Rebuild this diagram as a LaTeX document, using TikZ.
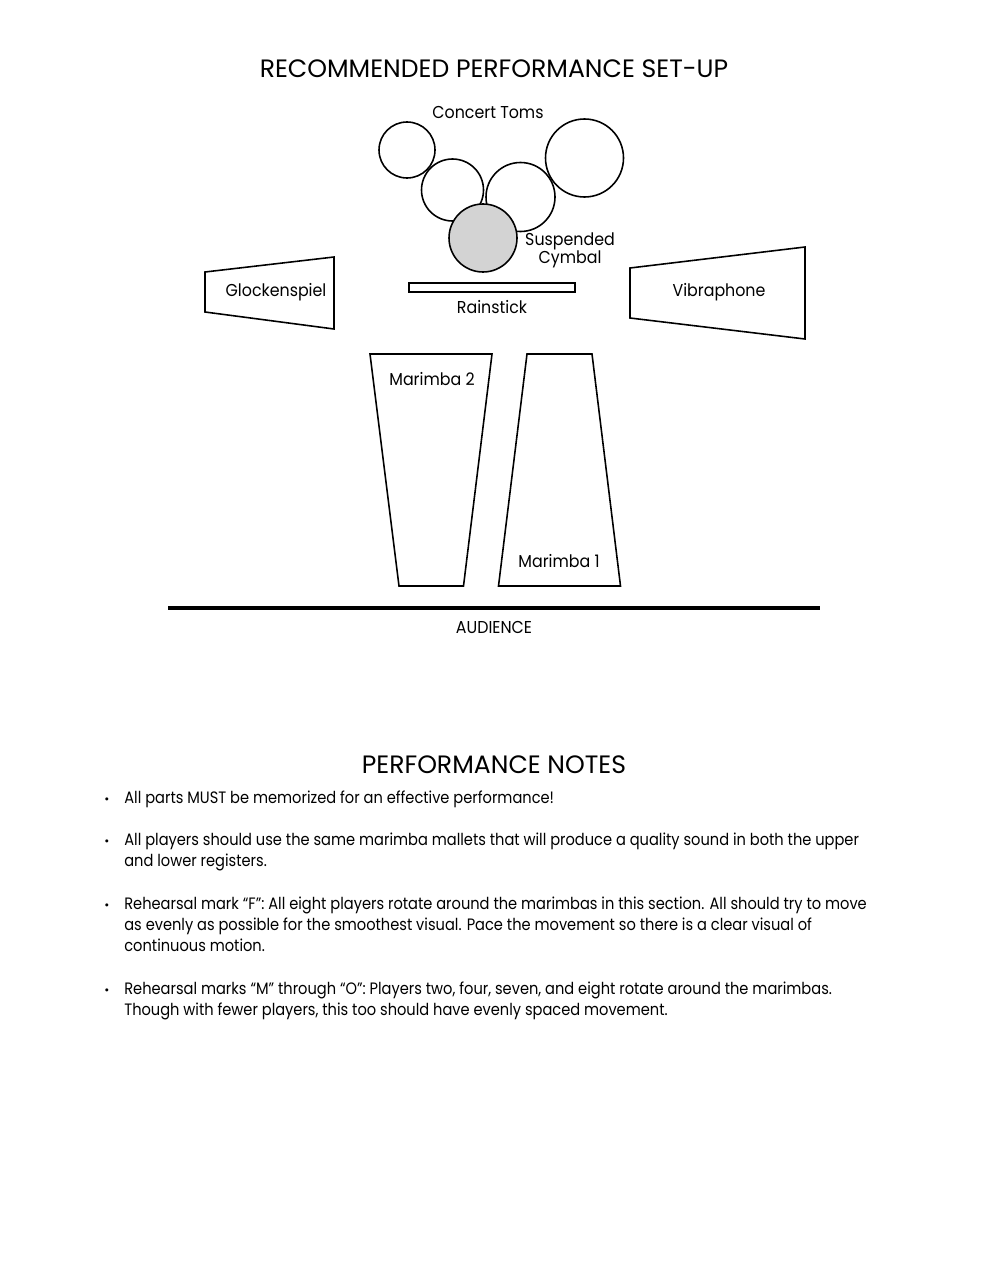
\documentclass[tikz,border=0pt]{standalone}
\usepackage{fontspec}
\setmainfont{Poppins}
\newfontfamily\labelfont[FakeStretch=0.92]{Poppins}
\newfontfamily\bodyfont[FakeStretch=0.885]{Poppins}
\usepackage{xcolor}
\usetikzlibrary{positioning}
\definecolor{cymgray}{HTML}{D3D3D3}
\tikzset{
  outline/.style ={draw=black, line width=0.9pt, fill=white},
  tom/.style     ={outline},
  cymbal/.style  ={outline, fill=cymgray},
  lbl/.style     ={inner sep=0pt, font=\labelfont\fontsize{9.8}{10.4}\selectfont, align=center},
  heading/.style ={inner sep=0pt, font=\fontsize{14.3}{16}\selectfont},
  para/.style    ={inner sep=0pt, anchor=base west, align=left,
                   font=\bodyfont\fontsize{9.4}{11.9}\selectfont},
  dot/.style     ={inner sep=0pt, anchor=base, font=\fontsize{7}{8}\selectfont},
}

\begin{document}
\begin{tikzpicture}[x=0.02cm, y=-0.02cm]
  \useasboundingbox (0,0) rectangle (989,1280);

  % set-up plan
  \node[heading] (title) at (494,69) {RECOMMENDED PERFORMANCE SET-UP};

  % toms and cymbal
  \draw[tom] (407,150) circle (28);
  \draw[tom] (452.5,190) circle (31);
  \draw[tom] (520.5,197) circle (34.5);
  \draw[tom] (584.5,158) circle (39);
  \draw[cymbal] (483,238) circle (34);
  \node[lbl] (toms) at (488,113) {Concert Toms};
  \node[lbl] (cymlbl) at (570,250) {Suspended\\Cymbal};

  % rainstick
  \draw[outline] (409,283) rectangle (575,292);
  \node[lbl] (rain) at (492,307) {Rainstick};

  % glockenspiel and vibraphone
  \draw[outline] (205,272) -- (334,257) -- (334,329) -- (205,312) -- cycle;
  \node[lbl] (glock) at (276,292) {Glockenspiel};
  \draw[outline] (630,268) -- (805,247) -- (805,339) -- (630,318) -- cycle;
  \node[lbl] (vib) at (719,292) {Vibraphone};

  % marimbas
  \draw[outline] (370,354) -- (492,354) -- (463.5,586) -- (399,586) -- cycle;
  \node[lbl] (mar2) at (432,379) {Marimba 2};
  \draw[outline] (527,354) -- (592,354) -- (620.5,586) -- (498.5,586) -- cycle;
  \node[lbl] (mar1) at (559,561) {Marimba 1};

  % audience
  \draw[line width=1.8pt] (168,608) -- (820,608);
  \node[lbl] (aud) at (494,627) {AUDIENCE};

  % notes (anchored at the baseline of each last line)
  \node[heading] (notes) at (494,765) {PERFORMANCE NOTES};
  \foreach \y in {803,845,909,994}
    \node[dot] at (107,\y) {\textbullet};
  \node[para] (n1) at (124,803) {All parts MUST be memorized for an effective performance!};
  \node[para] (n2) at (124,866) {All players should use the same marimba mallets that will produce a quality sound in both the upper\\and lower registers.};
  \node[para] (n3) at (124,951) {Rehearsal mark “F”: All eight players rotate around the marimbas in this section. All should try to move\\as evenly as possible for the smoothest visual. Pace the movement so there is a clear visual of\\continuous motion.};
  \node[para] (n4) at (124,1015) {Rehearsal marks “M” through “O”: Players two, four, seven, and eight rotate around the marimbas.\\Though with fewer players, this too should have evenly spaced movement.};
\end{tikzpicture}
\end{document}
